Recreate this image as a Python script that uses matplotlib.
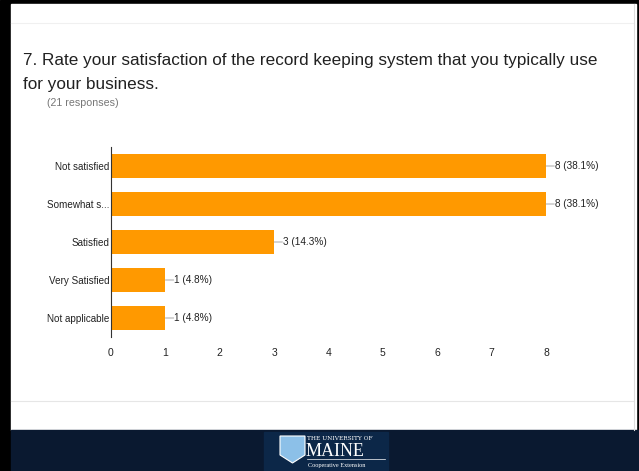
import matplotlib
matplotlib.use("Agg")
import matplotlib.pyplot as plt
import matplotlib.patches as patches

# ===== DATA =====
categories = ["Not satisfied", "Somewhat s...", "Satisfied", "Very Satisfied", "Not applicable"]
counts = [8, 8, 3, 1, 1]
percents = [38.1, 38.1, 14.3, 4.8, 4.8]
x_ticks = [0, 1, 2, 3, 4, 5, 6, 7, 8]

title_lines = ["7. Rate your satisfaction of the record keeping system that you typically use",
               "for your business."]
subtitle = "(21 responses)"

bar_color = "#ff9900"
navy = "#0a1930"

plt.rcParams['font.family'] = ['Liberation Sans', 'DejaVu Sans']

fig = plt.figure(figsize=(6.39, 4.71), dpi=100)
W, H = 639, 471

# frame / background pieces, in pixel coords
bg = fig.add_axes([0, 0, 1, 1])
bg.set_xlim(0, W)
bg.set_ylim(H, 0)
bg.axis("off")
bg.add_patch(patches.Rectangle((0, 0), W, H, color="black"))
bg.add_patch(patches.Rectangle((11, 4), 625, 426, color="white"))
bg.add_patch(patches.Rectangle((11, 430), 628, 41, color=navy))
bg.plot([11, 634], [23, 23], color="#f0f0f0", lw=0.8)
bg.plot([11, 634], [401, 401], color="#e6e6e6", lw=0.8)
bg.plot([634, 634], [4, 430], color="#dddddd", lw=0.8)

# logo
bg.add_patch(patches.Rectangle((264, 432), 124, 39, color="#0c2748"))
bg.add_patch(patches.Polygon([(280, 436), (305, 436), (305, 455), (292.5, 463), (280, 455)],
                             closed=True, facecolor="#8cc0e8", edgecolor="white", lw=0.8))
bg.text(307, 438.5, "THE UNIVERSITY OF", color="white", fontsize=4.2,
        family="DejaVu Serif", va="center", ha="left")
bg.text(306, 451, "MAINE", color="white", fontsize=13, family="Liberation Serif",
        va="center", ha="left")
bg.plot([307, 385], [459, 459], color="white", lw=0.5)
bg.text(308, 465.5, "Cooperative Extension", color="white", fontsize=4.5,
        family="Liberation Serif", va="center", ha="left")

# titles
bg.text(23, 61, title_lines[0], fontsize=12.3, color="#212121", va="center", ha="left")
bg.text(23, 85, title_lines[1], fontsize=12.3, color="#212121", va="center", ha="left")
bg.text(47, 103, subtitle, fontsize=7.7, color="#777777", va="center", ha="left")

# bar chart
ax = fig.add_axes([111 / W, 1 - 337 / H, (546 - 111) / W, 190 / H])
y = list(range(len(categories)))
ax.barh(y, counts, height=0.61, color=bar_color)
ax.set_ylim(len(categories) - 0.5, -0.5)
ax.set_xlim(0, 8)
ax.set_yticks(y)
ax.set_yticklabels(categories, fontsize=7.1, color="#222222")
ax.set_xticks(x_ticks)
ax.set_xticklabels([str(t) for t in x_ticks], fontsize=7.5, color="#222222")
ax.tick_params(axis="y", length=0, pad=1)
ax.tick_params(axis="x", length=0, pad=8)
for s in ["top", "right", "bottom"]:
    ax.spines[s].set_visible(False)
ax.spines["left"].set_color("#333333")
ax.spines["left"].set_linewidth(0.8)
ax.patch.set_alpha(0)

for yi, c, p in zip(y, counts, percents):
    ax.annotate("", xy=(c, yi), xytext=(6, 0), textcoords="offset points",
                arrowprops=dict(arrowstyle="-", color="#999999", lw=0.6,
                                shrinkA=0, shrinkB=0), annotation_clip=False)
    ax.annotate(f"{c} ({p}%)", xy=(c, yi), xytext=(6.5, 0), textcoords="offset points",
                fontsize=7.2, color="#222222", va="center", ha="left",
                annotation_clip=False)

fig.savefig("out.png", dpi=100)
